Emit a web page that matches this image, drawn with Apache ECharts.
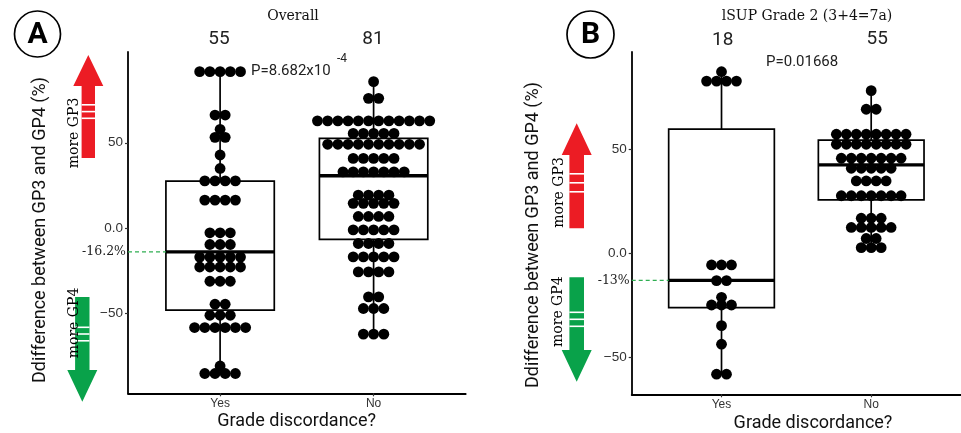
<!DOCTYPE html>
<html><head><meta charset="utf-8">
<script src="https://cdn.jsdelivr.net/npm/echarts@6/dist/echarts.min.js"></script>
<style>html,body{margin:0;padding:0;background:#fff}#c{width:961px;height:433px}</style>
</head><body><div id="c"></div>
<script>
// ---------- data ----------
const categories = ['Yes', 'No'];
const yTicks = [-50, 0, 50];

// Panel A (Overall): dot rows as [value, number of dots in the row]
const overallYesRows = [[91.8,5],[66.3,2],[57.9,1],[53.2,2],[42.8,1],[34.9,1],[27.6,4],[16.3,4],[-2.9,3],[-9.8,3],[-17.2,5],[-23.0,5],[-31.4,3],[-44.9,2],[-51.4,3],[-58.6,6],[-81.2,1],[-85.6,4]];
const overallNoRows = [[85.9,1],[76.1,2],[62.9,12],[55.5,5],[49.1,10],[40.8,5],[32.9,7],[19.2,4],[14.4,5],[6.7,4],[-1.2,5],[-9.2,4],[-17.1,5],[-25.9,4],[-40.6,2],[-47.4,3],[-62.5,3]];
// box stats [min, q1, median, q3, max]
const overallYesBox = [-85.6, -48.4, -14.1, 27.5, 91.8];
const overallNoBox = [-62.5, -6.8, 30.6, 52.6, 85.9];
const overallCounts = ['55', '81'];
const overallMedianLabel = '-16.2%';

// Panel B (lSUP Grade 2)
const gradeYesRows = [[87.1,1],[82.6,4],[-5.6,3],[-13.1,2],[-21.1,1],[-24.8,3],[-34.7,1],[-43.6,1],[-58.0,2]];
const gradeNoRows = [[78.0,1],[69.1,2],[57.1,8],[52.3,8],[45.6,7],[40.8,5],[34.7,4],[27.6,7],[16.8,3],[12.4,5],[7.1,2],[2.7,3]];
const gradeYesBox = [-58.0, -26.1, -13.0, 59.6, 87.1];
const gradeNoBox = [2.7, 25.6, 42.4, 54.3, 78.0];
const gradeCounts = ['18', '55'];
const gradeMedianLabel = '-13%';

// ---------- helpers ----------
const DOT_STEP = 0.0665;   // horizontal dot spacing (x units)
const BOX_HALF = 0.353;    // half box width (x units)

function dotPoints(rows, xc) {
  const out = [];
  rows.forEach(([v, n]) => {
    for (let j = 0; j < n; j++) out.push([xc + (j - (n - 1) / 2) * DOT_STEP, v]);
  });
  return out;
}

function boxRender(params, api) {
  const x = api.value(0), mn = api.value(1), q1 = api.value(2), md = api.value(3), q3 = api.value(4), mx = api.value(5);
  const pTop = api.coord([x, mx]), pQ3 = api.coord([x, q3]), pQ1 = api.coord([x, q1]), pMin = api.coord([x, mn]);
  const pL = api.coord([x - BOX_HALF, q3]), pR = api.coord([x + BOX_HALF, q1]);
  const m1 = api.coord([x - BOX_HALF, md]), m2 = api.coord([x + BOX_HALF, md]);
  const ls = { stroke: '#000', lineWidth: 1.7 };
  return { type: 'group', children: [
    { type: 'line', shape: { x1: pTop[0], y1: pTop[1], x2: pQ3[0], y2: pQ3[1] }, style: ls },
    { type: 'line', shape: { x1: pQ1[0], y1: pQ1[1], x2: pMin[0], y2: pMin[1] }, style: ls },
    { type: 'rect', shape: { x: pL[0], y: pL[1], width: pR[0] - pL[0], height: pR[1] - pL[1] }, style: { fill: '#fff', stroke: '#000', lineWidth: 1.7 } },
    { type: 'line', shape: { x1: m1[0], y1: m1[1], x2: m2[0], y2: m2[1] }, style: { stroke: '#000', lineWidth: 3.4 } }
  ]};
}

function xAxisCfg(idx) {
  return {
    gridIndex: idx, type: 'value', min: 0.4, max: 2.6, position: 'bottom',
    axisLine: { onZero: false, lineStyle: { color: '#000', width: 1.8 } },
    axisTick: { customValues: [1, 2], length: 3, lineStyle: { color: '#333', width: 1.2 } },
    axisLabel: { customValues: [1, 2], formatter: v => categories[Math.round(v) - 1], color: '#333', fontSize: 12, fontFamily: 'Liberation Sans', margin: 4 },
    splitLine: { show: false }
  };
}
function yAxisCfg(idx, mn, mx) {
  return {
    gridIndex: idx, type: 'value', min: mn, max: mx, position: 'left',
    axisLine: { show: true, onZero: false, lineStyle: { color: '#000', width: 1.8 } },
    axisTick: { show: true, customValues: yTicks, length: 3, lineStyle: { color: '#333', width: 1.2 } },
    axisLabel: { customValues: yTicks, formatter: v => v === 0 ? '0.0' : (v < 0 ? '\u2212' + Math.abs(v) : String(v)), color: '#333', fontSize: 13.5, fontFamily: 'Liberation Sans', margin: 5 },
    splitLine: { show: false }
  };
}
function panelSeries(idx, yesRows, noRows, yesBox, noBox, medLabel) {
  return [
    { type: 'custom', xAxisIndex: idx, yAxisIndex: idx, renderItem: boxRender, data: [[1, ...yesBox], [2, ...noBox]], z: 1, silent: true },
    { type: 'scatter', xAxisIndex: idx, yAxisIndex: idx, data: dotPoints(yesRows, 1).concat(dotPoints(noRows, 2)), symbolSize: 10.8, itemStyle: { color: '#000', opacity: 1 }, z: 3, silent: true },
    { type: 'line', xAxisIndex: idx, yAxisIndex: idx, data: [[0.4, yesBox[2]], [1 - BOX_HALF, yesBox[2]]], symbol: 'none', z: 4, silent: true,
      lineStyle: { color: '#2fae52', width: 1.4, type: [4, 3] },
      label: { show: false },
      markPoint: { symbol: 'circle', symbolSize: 0, data: [{ coord: [0.4, yesBox[2]] }],
        label: { show: true, position: 'left', distance: 2, formatter: medLabel, fontFamily: 'DejaVu Serif', fontSize: 12.5, color: '#222' } } }
  ];
}

// ---------- decorations ----------
function arrowUp(cx, tip, base, end, hw, sw, color) {
  return { type: 'polygon', shape: { points: [[cx, tip], [cx + hw, base], [cx + sw, base], [cx + sw, end], [cx - sw, end], [cx - sw, base], [cx - hw, base]] }, style: { fill: color } };
}
function stripes(cx, sw, ys) {
  return ys.map(y => ({ type: 'rect', shape: { x: cx - sw, y: y, width: 2 * sw, height: 1.6 }, style: { fill: '#fff' } }));
}
function vText(x, y, text, font, size, color) {
  return { type: 'text', x: x, y: y, rotation: Math.PI / 2, style: { text: text, fontFamily: font, fontSize: size, fill: color || '#000', align: 'center', verticalAlign: 'middle' } };
}
function hText(x, y, text, font, size, extra) {
  return { type: 'text', x: x, y: y, style: Object.assign({ text: text, fontFamily: font, fontSize: size, fill: '#000', align: 'center', verticalAlign: 'middle' }, extra || {}) };
}

const RED = '#ec1c24', GREEN = '#09a24a';
const graphics = [
  // panel labels
  { type: 'circle', shape: { cx: 37.5, cy: 34, r: 23 }, style: { fill: 'none', stroke: '#000', lineWidth: 1.7 } },
  hText(37.5, 35, 'A', 'Roboto', 30, { fontWeight: 'bold' }),
  { type: 'circle', shape: { cx: 590.5, cy: 34.5, r: 23.5 }, style: { fill: 'none', stroke: '#000', lineWidth: 1.7 } },
  hText(590.5, 35.5, 'B', 'Roboto', 30, { fontWeight: 'bold' }),
  // titles
  hText(293, 16, 'Overall', 'DejaVu Serif', 14, { fill: '#111' }),
  hText(807, 16, 'lSUP Grade 2 (3+4=7a)', 'DejaVu Serif', 14, { fill: '#111' }),
  // counts
  hText(219, 39, overallCounts[0], 'Roboto', 19, { fill: '#222' }),
  hText(373, 39, overallCounts[1], 'Roboto', 19, { fill: '#222' }),
  hText(722.7, 40, gradeCounts[0], 'Roboto', 19, { fill: '#222' }),
  hText(877.3, 39, gradeCounts[1], 'Roboto', 19, { fill: '#222' }),
  // p values
  hText(251, 71, 'P=8.682x10', 'Roboto', 15, { align: 'left', fill: '#222' }),
  hText(337, 58.5, '-4', 'Roboto', 12, { align: 'left', fill: '#222' }),
  hText(766, 62.7, 'P=0.01668', 'Roboto', 15, { align: 'left', fill: '#222' }),
  // axis titles
  vText(40, 230, 'Ddifference between GP3 and GP4 (%)', 'Roboto', 18, '#111'),
  vText(533.5, 235, 'Ddifference between GP3 and GP4 (%)', 'Roboto', 18, '#111'),
  hText(296.7, 421, 'Grade discordance?', 'Roboto', 18, { fill: '#111' }),
  hText(813, 423, 'Grade discordance?', 'Roboto', 18, { fill: '#111' }),
  // arrows A
  arrowUp(88.3, 55, 86, 158, 15, 6.7, RED),
  ...stripes(88.3, 6.7, [104, 110.8, 117.5]),
  arrowUp(82.3, 401.7, 370, 297, 15, 7.2, GREEN),
  ...stripes(82.3, 7.2, [326.5, 333.2, 340]),
  vText(74, 133, 'more GP3', 'DejaVu Serif', 14),
  vText(74, 323, 'more GP4', 'DejaVu Serif', 14),
  // arrows B
  arrowUp(576.7, 123.3, 155, 228.3, 15, 7.3, RED),
  ...stripes(576.7, 7.3, [173, 182, 191]),
  arrowUp(576.7, 381.7, 350, 277.3, 15, 7.3, GREEN),
  ...stripes(576.7, 7.3, [311.5, 318.5, 325.5]),
  vText(559, 192.5, 'more GP3', 'DejaVu Serif', 14),
  vText(558, 311.7, 'more GP4', 'DejaVu Serif', 14)
];

const chart = echarts.init(document.getElementById('c'), null, { renderer: 'canvas' });
chart.setOption({
  animation: false,
  backgroundColor: '#fff',
  grid: [
    { left: 128, top: 52, width: 337.7, height: 341.3 },
    { left: 631.7, top: 52, width: 337.7, height: 342.3 }
  ],
  xAxis: [xAxisCfg(0), xAxisCfg(1)],
  yAxis: [yAxisCfg(0, -97.24, 103.35), yAxisCfg(1, -67.63, 96.55)],
  series: [
    ...panelSeries(0, overallYesRows, overallNoRows, overallYesBox, overallNoBox, overallMedianLabel),
    ...panelSeries(1, gradeYesRows, gradeNoRows, gradeYesBox, gradeNoBox, gradeMedianLabel)
  ],
  graphic: graphics
});
</script></body></html>
